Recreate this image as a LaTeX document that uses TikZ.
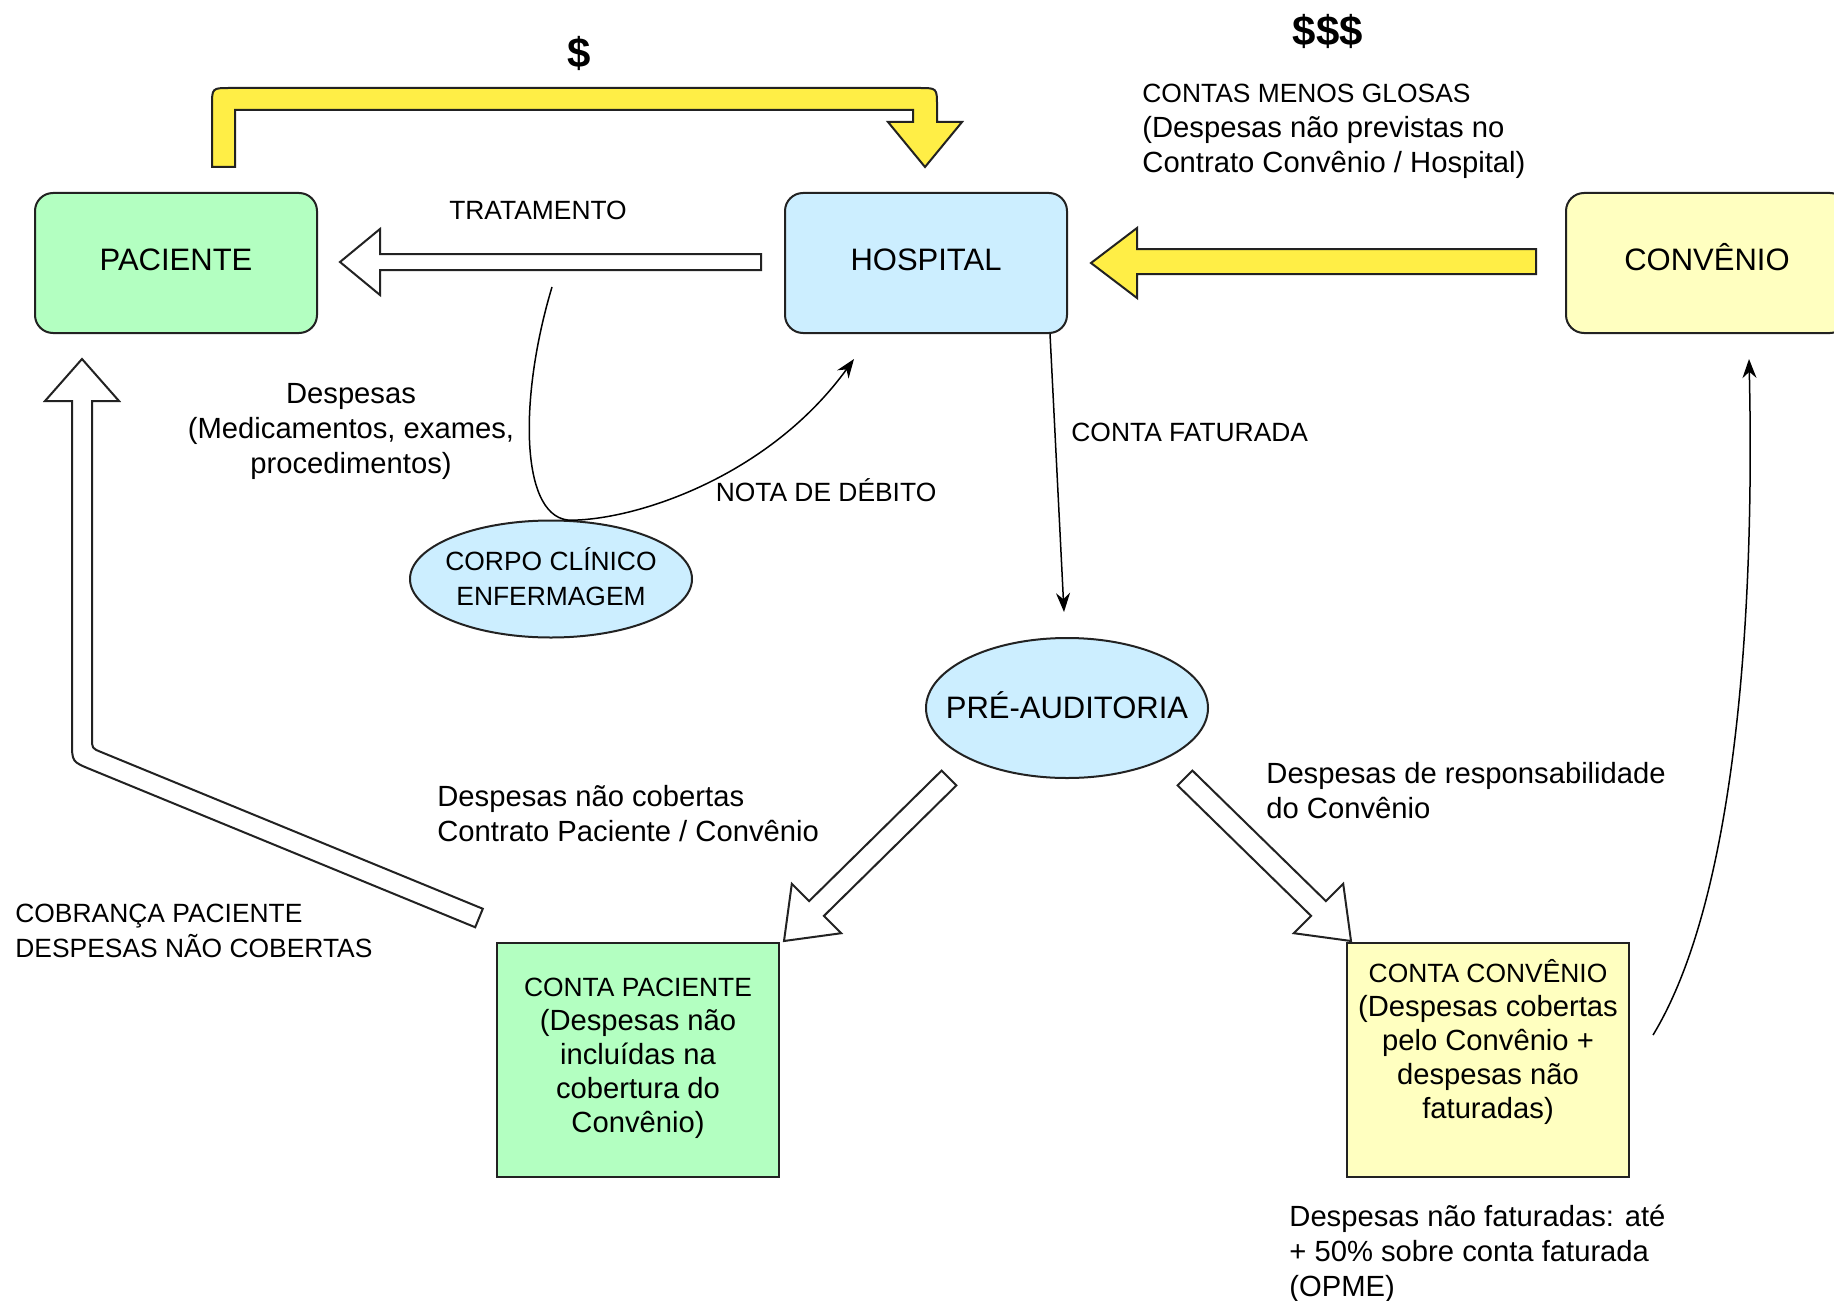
\documentclass[tikz,border=0pt]{standalone}
\usepackage{fontspec}
\setmainfont{Liberation Sans}
\usetikzlibrary{arrows.meta,calc,shapes.geometric}
\definecolor{gfill}{RGB}{179,255,193}
\definecolor{bfill}{RGB}{204,238,255}
\definecolor{yfill}{RGB}{255,255,192}
\definecolor{yarrow}{RGB}{255,238,70}
\definecolor{edge}{RGB}{34,34,34}
\newcommand{\capsz}{\fontsize{13.2pt}{17.5pt}\selectfont}
\newcommand{\mixsz}{\fontsize{14.6pt}{17.5pt}\selectfont}
\newcommand{\bigsz}{\fontsize{15.5pt}{18pt}\selectfont}
\begin{document}
\begin{tikzpicture}[x=0.5pt,y=-0.5pt,
  rbox/.style={draw=edge, line width=1pt, rounded corners=9pt, minimum width=141pt, minimum height=70pt, font=\bigsz, text height=11.1pt, text depth=3.5pt},
  sbox/.style={draw=edge, line width=1pt, minimum width=141pt, minimum height=117pt},
  oval/.style={ellipse, draw=edge, line width=1pt, fill=bfill, inner sep=0pt},
  lbl/.style={inner sep=0pt, font=\capsz},
  mlbl/.style={inner sep=0pt, font=\mixsz, align=left},
  blockarrow/.style={draw=edge, line width=1pt, fill=white, line join=miter},
  yblock/.style={draw=edge, line width=1pt, fill=yarrow, line join=miter},
  conn/.style={draw=black, line width=0.75pt, -{Stealth[length=9.5pt,width=7pt]}},
]
\useasboundingbox (0,0) rectangle (1834,1300);
\fill[white] (0,0) rectangle (1834,1300);

% main boxes
\node[rbox, fill=gfill] (paciente) at (176,263) {PACIENTE};
\node[rbox, fill=bfill] (hospital) at (926,263) {HOSPITAL};
\node[rbox, fill=yfill] (convenio) at (1707,263) {CONVÊNIO};

% ellipses
\node[oval, minimum width=141pt, minimum height=58.5pt] (corpo) at (551,579) {};
\node[font=\capsz, align=center, inner sep=0pt] (corpotext) at (551,577) {CORPO CLÍNICO\\ENFERMAGEM};
\node[oval, minimum width=141pt, minimum height=70pt] (preaud) at (1067,708) {};
\node[font=\bigsz, inner sep=0pt] (preaudtext) at (1067,705) {PRÉ-AUDITORIA};

% account boxes
\node[sbox, fill=gfill] (cpac) at (638,1060) {};
\node[align=center, font=\fontsize{14.6pt}{17pt}\selectfont, inner sep=0pt] (cpactext) at (638,1058) {{\capsz CONTA PACIENTE}\\(Despesas não\\incluídas na\\cobertura do\\Convênio)};
\node[sbox, fill=yfill] (cconv) at (1488,1060) {};
\node[align=center, font=\fontsize{14.6pt}{17pt}\selectfont, inner sep=0pt] (cconvtext) at (1488,1042) {{\capsz CONTA CONVÊNIO}\\(Despesas cobertas\\pelo Convênio +\\despesas não\\faturadas)};

% yellow bent arrow ($)
\draw[yblock] (212,167) -- (212,106) .. controls (212,88) .. (230,88) -- (919,88)
  .. controls (937,88) .. (937,106) -- (937,122) -- (962,122) -- (925,167) -- (888,122)
  -- (913,122) -- (913,110) -- (235,110) -- (235,167) -- cycle;

% yellow arrow convenio -> hospital
\draw[yblock] (1536,249) -- (1137,249) -- (1137,228) -- (1091,263) -- (1137,298)
  -- (1137,274) -- (1536,274) -- cycle;

% white arrow hospital -> paciente (TRATAMENTO)
\draw[blockarrow] (761,254) -- (380,254) -- (380,229) -- (340,262) -- (380,295)
  -- (380,270) -- (761,270) -- cycle;

% white arrow conta paciente -> paciente
\draw[blockarrow] (92,401) -- (119,401) -- (82,359) -- (45,401) -- (72,401)
  -- (72,741.7) .. controls (72,761.7) .. (90.5,769.3) -- (475.2,927.25)
  -- (482.8,908.75) -- (101.25,752.1) .. controls (92,748.3) .. (92,738.3) -- cycle;

% white arrow pre-auditoria -> conta paciente
\draw[blockarrow] (941.6,770.6) -- (809.1,901.1) -- (791.8,883.8) -- (784,941)
  -- (841.2,933.2) -- (823.9,915.9) -- (956.4,785.4) -- cycle;

% white arrow pre-auditoria -> conta convenio
\draw[blockarrow] (1192.4,770.6) -- (1325.9,901.1) -- (1343.2,883.8) -- (1351,941)
  -- (1293.8,933.2) -- (1311.1,915.9) -- (1177.6,785.4) -- cycle;

% thin connectors
\coordinate (fatend) at (1064,612);
\draw[conn] ($(hospital.south)+(124,0)$) -- (fatend);

\coordinate (despstart) at (552,287);
\coordinate (notaend) at (854,359);
\draw[conn] (despstart) .. controls (518,400) and (520,522) .. (corpo.70)
  .. controls (640,519) and (770,475) .. (notaend);

\coordinate (ccstart) at (1653,1035);
\coordinate (convend) at (1749,359);
\draw[conn] (ccstart) .. controls (1735,900) and (1755,620) .. (convend);

% labels
\node[font=\bfseries\fontsize{21pt}{24pt}\selectfont, inner sep=0pt] (d1) at (579,53) {\$};
\node[font=\bfseries\fontsize{21pt}{24pt}\selectfont, inner sep=0pt] (d3) at (1328,31) {\$\$\$};
\node[mlbl, anchor=west] (glosas) at (1142,131) {{\capsz CONTAS MENOS GLOSAS}\\(Despesas não previstas no\\Contrato Convênio / Hospital)};
\node[lbl] (trat) at (538,210) {TRATAMENTO};
\node[mlbl, align=center] (desp) at (351,431) {Despesas\\(Medicamentos, exames,\\procedimentos)};
\node[lbl] (nota) at (826,490) {NOTA DE DÉBITO};
\node[lbl, anchor=west] (fat) at (1071,432) {CONTA FATURADA};
\node[mlbl, anchor=west] (naocob) at (437,814) {Despesas não cobertas\\Contrato Paciente / Convênio};
\node[lbl, align=left, anchor=west] (cobr) at (15,931) {COBRANÇA PACIENTE\\DESPESAS NÃO COBERTAS};
\node[mlbl, anchor=west] (resp) at (1266,791) {Despesas de responsabilidade\\do Convênio};
\node[mlbl, anchor=west] (opme) at (1289,1254) {Despesas não faturadas: até\\+ 50\% sobre conta faturada\\(OPME)};
\end{tikzpicture}
\end{document}
